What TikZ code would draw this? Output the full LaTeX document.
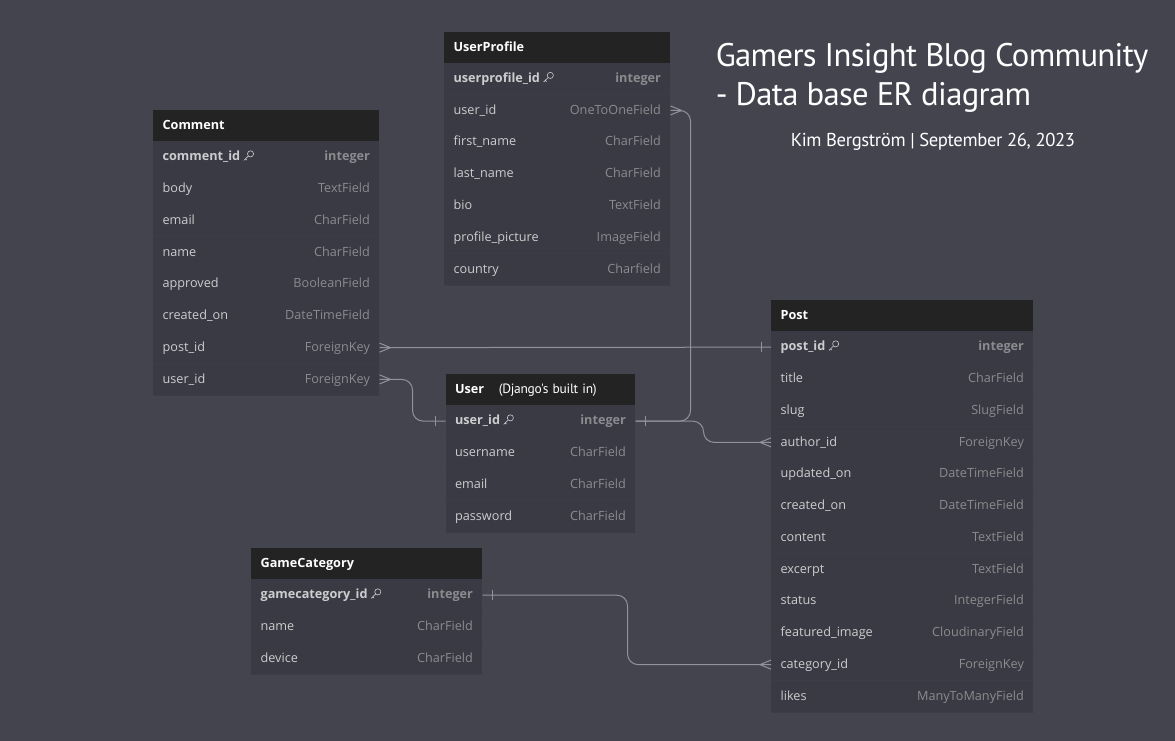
\documentclass[tikz,border=0pt]{standalone}
\usepackage{fontspec}
\usetikzlibrary{calc}
\setmainfont{Open Sans}
\newfontfamily\titlefont[LetterSpace=-2.0]{PT Sans}
\catcode`\_=12
\definecolor{bgc}{HTML}{43444E}
\definecolor{rowc}{HTML}{393A43}
\definecolor{headc}{HTML}{232323}
\definecolor{sepc}{HTML}{3C3D46}
\definecolor{namec}{HTML}{CDCDCF}
\definecolor{typec}{HTML}{8B8B8F}
\definecolor{linkc}{HTML}{92929E}
\newcommand\keyicon{\hspace{2.5pt}\tikz[baseline=0pt,x=1pt,y=1pt]{\draw[namec,line width=.45pt] (5,5.2) circle (2.3) (3.4,3.6) -- (0,0.3) (1.2,1.4) -- (2.2,0.5);}}
\tikzset{
  headbox/.style={anchor=north west,fill=headc,text=white,inner xsep=7pt,inner ysep=0pt,align=left,font=\bfseries\fontsize{9.5pt}{11pt}\selectfont,text height=7.5pt,text depth=2pt},
  rowbox/.style={anchor=north west,fill=rowc,inner xsep=7pt,inner ysep=0pt,font=\fontsize{9.5pt}{11pt}\selectfont,text height=7.5pt,text depth=2pt},
  sepline/.style={sepc,line width=.5pt},
  link/.style={linkc,line width=.75pt},
  elbow/.style={link,rounded corners=8pt},
  titletext/.style={anchor=base west,text=white,inner sep=0pt,font=\titlefont\fontsize{24.5pt}{29pt}\selectfont},
}
% tag, title, x1, x2, ytop, yhead, row height, rows
\newcommand\ertable[8]{%
  \pgfmathsetmacro\tw{(#4-#3)*.75}%
  \pgfmathsetmacro\th{(#6-#5)*.75}%
  \pgfmathsetmacro\rh{#7*.75}%
  \node[headbox,text width=\tw pt-14pt,minimum height=\th pt] (#1-head) at (#3,#5) {#2};
  \foreach \k/\n/\f [count=\i] in {#8}{
    \pgfmathsetmacro\ry{#6+(\i-1)*#7}
    \node[rowbox,text width=\tw pt-14pt,minimum height=\rh pt] (#1-\k) at (#3,\ry) {\textcolor{namec}{\n}\hfill\textcolor{typec}{\f}};
    \draw[sepline] (#1-\k.south west) -- (#1-\k.south east);
  }
}
\newcommand\crowfoot[2]{\draw[link] ($(#1)+(#2*11,0)$) -- ($(#1)+(0,4.5)$) ($(#1)+(#2*11,0)$) -- ($(#1)+(0,-4.5)$);}
\newcommand\onetick[2]{\draw[link] ($(#1)+(#2*10,-5)$) -- ($(#1)+(#2*10,5)$);}
\begin{document}
\begin{tikzpicture}[x=.75pt,y=-.75pt]
\fill[bgc] (0,0) rectangle (1175,741);
\useasboundingbox (0,0) rectangle (1175,741);

\ertable{comment}{Comment}{153}{379}{110}{141}{31.75}{
  id/\textbf{comment_id}\keyicon/\textbf{integer},
  body/body/TextField,
  email/email/CharField,
  name/name/CharField,
  approved/approved/BooleanField,
  created/created_on/DateTimeField,
  post/post_id/ForeignKey,
  user/user_id/ForeignKey}

\ertable{profile}{UserProfile}{444}{670}{32}{62.5}{31.8}{
  id/\textbf{userprofile_id}\keyicon/\textbf{integer},
  user/user_id/OneToOneField,
  first/first_name/CharField,
  last/last_name/CharField,
  bio/bio/TextField,
  picture/profile_picture/ImageField,
  country/country/Charfield}

\ertable{user}{User\hspace{11pt}{\mdseries\titlefont\fontsize{10.1pt}{12pt}\selectfont (Django's built in)}}{445.5}{635}{374}{405}{31.75}{
  user/\textbf{user_id}\keyicon/\textbf{integer},
  username/username/CharField,
  email/email/CharField,
  password/password/CharField}

\ertable{game}{GameCategory}{251}{482}{548}{579}{31.75}{
  id/\textbf{gamecategory_id}\keyicon/\textbf{integer},
  name/name/CharField,
  device/device/CharField}

\ertable{post}{Post}{771}{1033}{300}{331}{31.75}{
  post/\textbf{post_id}\keyicon/\textbf{integer},
  title/title/CharField,
  slug/slug/SlugField,
  author/author_id/ForeignKey,
  updated/updated_on/DateTimeField,
  created/created_on/DateTimeField,
  content/content/TextField,
  excerpt/excerpt/TextField,
  status/status/IntegerField,
  image/featured_image/CloudinaryField,
  category/category_id/ForeignKey,
  likes/likes/ManyToManyField}

% connectors
\draw[link] (comment-post.east) -- (post-post.west);
\crowfoot{comment-post.east}{1}
\onetick{post-post.west}{-1}

\draw[elbow] (comment-user.east) -- ++(33,0) |- (user-user.west);
\crowfoot{comment-user.east}{1}
\onetick{user-user.west}{-1}

\draw[elbow] (user-user.east) -- ++(55,0) |- (profile-user.east);
\crowfoot{profile-user.east}{1}
\onetick{user-user.east}{1}

\draw[elbow] (user-user.east) -- ++(68,0) |- (post-author.west);
\crowfoot{post-author.west}{-1}

\draw[elbow] (game-id.east) -- ++(145,0) |- (post-category.west);
\onetick{game-id.east}{1}
\crowfoot{post-category.west}{-1}

% title
\node[titletext] (title1) at (715.5,67) {Gamers Insight Blog Community};
\node[titletext] (title2) at (715.5,106) {- Data base ER diagram};
\node[anchor=base west,text=white,inner sep=0pt,font=\titlefont\fontsize{14pt}{17pt}\selectfont] (author) at (790.5,146.5) {Kim Bergström | September 26, 2023};
\end{tikzpicture}
\end{document}
